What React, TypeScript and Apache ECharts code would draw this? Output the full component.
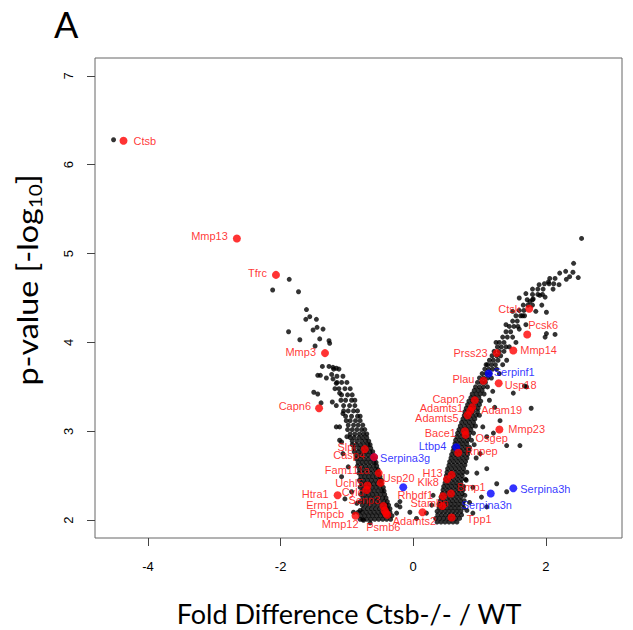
import { useEffect, useRef } from "react";
import * as echarts from "echarts";

// ---- axis ticks ----
const xTicks = [-4, -2, 0, 2];
const yTicks = [2, 3, 4, 5, 6, 7];

// ---- highlighted genes (red) ----
const redGenes = ["Ctsb", "Mmp13", "Tfrc", "Mmp3", "Capn6", "Slpi", "Casp4", "Fam111a", "Usp20", "Uchl5", "Cyld", "Htra1", "Senp3", "Ermp1", "Pmpcb", "Mmp12", "Psmb6", "Adamts2", "Stambp", "Tpp1", "Rhbdf1", "Bmp1", "Klk8", "H13", "Rnpep", "Osgep", "Bace1", "Mmp23", "Adam19", "Adamts5", "Adamts1", "Capn2", "Plau", "Usp18", "Prss23", "Mmp14", "Pcsk6", "Ctsk"];
const redFold = [-4.37, -2.66, -2.07, -1.33, -1.42, -0.73, -0.59, -0.52, -0.49, -0.69, -0.70, -1.14, -0.45, -0.43, -0.41, -0.87, -0.39, 0.14, 0.44, 0.58, 0.45, 0.57, 0.51, 0.58, 0.68, 0.79, 0.78, 1.30, 0.89, 0.82, 0.86, 0.93, 1.06, 1.29, 1.26, 1.51, 1.72, 1.75];
const redP = [6.27, 5.17, 4.76, 3.88, 3.26, 2.80, 2.71, 2.53, 2.42, 2.39, 2.34, 2.28, 2.16, 2.11, 2.08, 2.05, 2.06, 2.09, 2.16, 2.03, 2.27, 2.30, 2.46, 2.51, 2.76, 2.96, 3.00, 3.02, 3.27, 3.18, 3.23, 3.35, 3.57, 3.54, 3.88, 3.91, 4.09, 4.38];

// ---- highlighted genes (blue) ----
const blueGenes = ["Serpina3g", "", "Ltbp4", "Serpinf1", "Serpina3n", "Serpina3h"];
const blueFold = [-0.59, -0.15, 0.65, 1.14, 1.17, 1.51];
const blueP = [2.71, 2.37, 2.82, 3.65, 2.30, 2.36];

// ---- all other proteins (black), rows of [p-value, fold differences] ----
const leftRows: [number, number[]][] = [
  [2.01, [-0.80, -0.76, -0.70, -0.64, -0.58, -0.52, -0.46, -0.40, -0.34]],
  [2.05, [-0.79, -0.73, -0.67, -0.61, -0.55, -0.49, -0.43, -0.37, -0.32]],
  [2.09, [-0.83, -0.77, -0.71, -0.65, -0.59, -0.53, -0.47, -0.41, -0.35]],
  [2.13, [-0.75, -0.69, -0.63, -0.57, -0.51, -0.45, -0.39, -0.35]],
  [2.17, [-0.77, -0.71, -0.65, -0.59, -0.53, -0.47, -0.41, -0.37]],
  [2.21, [-0.80, -0.74, -0.68, -0.62, -0.56, -0.50, -0.44, -0.39]],
  [2.25, [-0.76, -0.70, -0.64, -0.58, -0.52, -0.46, -0.41]],
  [2.29, [-0.79, -0.73, -0.67, -0.61, -0.55, -0.49, -0.43]],
  [2.33, [-0.77, -0.71, -0.65, -0.59, -0.53, -0.47, -0.44]],
  [2.37, [-0.80, -0.74, -0.68, -0.62, -0.56, -0.50, -0.45]],
  [2.41, [-0.78, -0.72, -0.66, -0.60, -0.54, -0.48]],
  [2.45, [-0.81, -0.75, -0.69, -0.63, -0.57, -0.51, -0.48]],
  [2.49, [-0.79, -0.73, -0.67, -0.61, -0.55, -0.50]],
  [2.53, [-0.82, -0.76, -0.70, -0.64, -0.58, -0.52]],
  [2.57, [-0.81, -0.75, -0.69, -0.63, -0.57, -0.53]],
  [2.61, [-0.84, -0.78, -0.72, -0.66, -0.60, -0.55]],
  [2.65, [-0.83, -0.77, -0.71, -0.65, -0.59, -0.56]],
  [2.69, [-0.86, -0.80, -0.74, -0.68, -0.62, -0.58]],
  [2.73, [-0.86, -0.80, -0.74, -0.68, -0.62]],
  [2.77, [-0.89, -0.83, -0.77, -0.71, -0.65, -0.61]],
  [2.81, [-0.89, -0.82, -0.76, -0.70, -0.64]],
  [2.85, [-0.92, -0.86, -0.80, -0.74, -0.68, -0.65]],
  [2.89, [-0.92, -0.85, -0.78, -0.72, -0.67]],
  [2.93, [-0.95, -0.89, -0.82, -0.76, -0.70]],
  [2.97, [-0.95, -0.88, -0.81, -0.75, -0.70]],
  [3.02, [-0.99, -0.92, -0.85, -0.78, -0.73]],
  [3.07, [-0.98, -0.90, -0.83, -0.76]],
  [3.12, [-1.01, -0.95, -0.87, -0.80]],
  [3.17, [-1.02, -0.93, -0.84, -0.80]],
  [3.23, [-1.05, -0.98, -0.90, -0.84]],
  [3.29, [-1.05, -0.96, -0.88]],
  [3.35, [-1.09, -1.02, -0.93, -0.88]],
  [3.41, [-1.08, -0.99, -0.92]],
  [3.48, [-1.12, -1.03, -0.95]],
  [3.55, [-1.15, -1.08, -1.00]],
  [3.62, [-1.15, -1.06]],
  [3.70, [-1.20, -1.12]],
];

const rightRows: [number, number[]][] = [
  [1.98, [0.36, 0.42, 0.48, 0.54, 0.60, 0.66]],
  [2.02, [0.34, 0.40, 0.46, 0.52, 0.58, 0.64, 0.70]],
  [2.06, [0.37, 0.43, 0.49, 0.55, 0.61, 0.67, 0.73]],
  [2.10, [0.36, 0.42, 0.48, 0.54, 0.60, 0.66, 0.72]],
  [2.14, [0.39, 0.45, 0.51, 0.57, 0.63, 0.69, 0.76]],
  [2.18, [0.39, 0.45, 0.51, 0.57, 0.63, 0.69, 0.75]],
  [2.22, [0.41, 0.47, 0.53, 0.59, 0.65, 0.71, 0.77]],
  [2.26, [0.42, 0.48, 0.54, 0.60, 0.66, 0.72]],
  [2.30, [0.44, 0.50, 0.56, 0.62, 0.68, 0.74]],
  [2.34, [0.45, 0.51, 0.57, 0.63, 0.69, 0.75]],
  [2.38, [0.46, 0.52, 0.58, 0.64, 0.70, 0.76]],
  [2.42, [0.48, 0.54, 0.60, 0.66, 0.72]],
  [2.46, [0.49, 0.55, 0.61, 0.67, 0.73, 0.79]],
  [2.50, [0.50, 0.56, 0.62, 0.68, 0.74]],
  [2.54, [0.51, 0.57, 0.63, 0.69, 0.75, 0.81]],
  [2.58, [0.52, 0.58, 0.64, 0.70, 0.76]],
  [2.62, [0.54, 0.60, 0.66, 0.72, 0.78]],
  [2.66, [0.55, 0.61, 0.67, 0.73, 0.79]],
  [2.70, [0.57, 0.63, 0.69, 0.75, 0.81]],
  [2.74, [0.58, 0.64, 0.70, 0.76, 0.82]],
  [2.78, [0.60, 0.66, 0.72, 0.78, 0.84]],
  [2.82, [0.61, 0.67, 0.73, 0.79, 0.85]],
  [2.86, [0.63, 0.69, 0.75, 0.81]],
  [2.90, [0.64, 0.70, 0.76, 0.82, 0.88]],
  [2.94, [0.66, 0.72, 0.78, 0.84]],
  [2.98, [0.67, 0.73, 0.79, 0.85, 0.91]],
  [3.02, [0.69, 0.75, 0.81, 0.87]],
  [3.06, [0.71, 0.77, 0.83, 0.89, 0.94]],
  [3.10, [0.73, 0.79, 0.85, 0.91]],
  [3.14, [0.75, 0.81, 0.87, 0.93]],
  [3.18, [0.77, 0.83, 0.89, 0.95]],
  [3.22, [0.78, 0.84, 0.90, 0.97]],
  [3.26, [0.80, 0.86, 0.92, 0.98]],
  [3.30, [0.82, 0.88, 0.94, 1.00]],
  [3.34, [0.84, 0.90, 0.96, 1.02]],
  [3.38, [0.87, 0.93, 0.99]],
  [3.42, [0.89, 0.95, 1.01, 1.07]],
  [3.46, [0.92, 0.98, 1.04]],
  [3.50, [0.94, 1.00, 1.06, 1.12]],
  [3.55, [0.97, 1.03, 1.09]],
  [3.60, [1.00, 1.06, 1.12, 1.18]],
  [3.65, [1.04, 1.10, 1.16]],
  [3.70, [1.08, 1.14, 1.20, 1.26]],
  [3.75, [1.12, 1.18, 1.24]],
  [3.80, [1.15, 1.21, 1.28]],
  [3.85, [1.19, 1.26, 1.32]],
  [3.90, [1.22, 1.30, 1.37]],
  [3.95, [1.27, 1.33, 1.40]],
  [4.00, [1.30, 1.37]],
  [4.06, [1.35, 1.42, 1.50]],
  [4.12, [1.40, 1.47]],
  [4.18, [1.45, 1.52, 1.58]],
  [4.24, [1.50, 1.57]],
  [4.30, [1.55, 1.62, 1.68]],
  [4.36, [1.60, 1.67]],
  [4.42, [1.66, 1.73, 1.80]],
  [4.48, [1.72, 1.80]],
  [4.54, [1.80, 1.88, 1.95]],
  [4.60, [1.88, 1.96]],
  [4.66, [1.98, 2.05, 2.12]],
  [4.72, [2.06, 2.14]],
];

const leftScatter: [number, number][] = [
  [-4.52, 6.28], [-1.87, 4.71], [-2.12, 4.59], [-1.73, 4.57],
  [-1.61, 4.37], [-1.56, 4.29], [-1.46, 4.26], [-1.62, 4.26], [-1.45, 4.17], [-1.36, 4.15], [-1.88, 4.12], [-1.71, 4.03], [-1.41, 4.04], [-1.27, 4.02], [-1.48, 3.96], [-1.26, 3.99], [-1.51, 4.14],
  [-1.37, 3.73], [-1.27, 3.73], [-1.16, 3.71], [-1.44, 3.63], [-1.40, 3.63], [-1.31, 3.60], [-1.23, 3.64], [-1.16, 3.54], [-1.18, 3.48], [-1.50, 3.44], [-1.44, 3.42], [-1.22, 3.33], [-1.16, 3.29], [-1.39, 3.32], [-1.21, 3.72], [-1.21, 3.59], [-1.11, 3.43],
  [-1.06, 3.20], [-1.11, 3.05], [-1.00, 2.94], [-1.08, 2.88], [-1.16, 3.05], [-1.11, 2.90], [-1.06, 2.75], [-0.98, 2.60], [-1.08, 2.49], [-0.93, 2.32], [-1.03, 2.24], [-0.85, 2.19], [-0.80, 2.11], [-0.90, 2.09], [-0.75, 2.00], [-0.65, 1.97],
  [-0.25, 2.17], [-0.20, 2.21], [-0.20, 2.15], [-0.25, 2.08], [-0.05, 2.09],
];

const rightScatter: [number, number][] = [
  [2.54, 5.17], [2.42, 4.89], [2.41, 4.79], [2.31, 4.71], [2.36, 4.74], [2.49, 4.73], [2.21, 4.78], [2.04, 4.68], [2.11, 4.60], [1.91, 4.53], [1.99, 4.51], [1.81, 4.49], [1.76, 4.46], [1.94, 4.42], [2.01, 4.34],
  [2.01, 4.10], [2.14, 4.09], [1.99, 4.06], [1.78, 3.26], [1.31, 3.12], [1.23, 3.27], [1.41, 2.84], [1.61, 2.84], [1.11, 2.94], [1.21, 2.98], [1.01, 2.75], [1.11, 2.58], [0.96, 2.53], [1.26, 2.41], [1.41, 2.32], [1.03, 2.26], [0.90, 2.37], [0.81, 2.11], [0.90, 2.08], [1.11, 2.15], [1.51, 3.43], [1.71, 3.50], [1.68, 3.51], [1.41, 3.80],
  [0.28, 2.17], [0.20, 2.08], [0.30, 2.28], [0.05, 2.02],
  [0.85, 2.20], [0.80, 2.45], [0.95, 2.70], [1.05, 3.05], [1.15, 3.35], [1.30, 3.65], [1.45, 3.95], [1.60, 4.15], [1.65, 4.30], [1.85, 4.35], [0.78, 2.28], [0.92, 2.85], [1.00, 3.18], [1.20, 3.45], [1.35, 3.75], [1.55, 4.00], [1.70, 4.20], [1.80, 4.60], [1.90, 4.65], [2.20, 4.65], [2.30, 4.80], [1.70, 4.55], [1.60, 4.50], [1.50, 4.35], [1.40, 4.20], [1.25, 4.00], [1.10, 3.75],
];

// ---- label placement (text align, dx, dy in px from the dot) ----
const labelPlace: Record<string, [string, number, number]> = {
  Ctsb: ["left", 10, 0], Mmp13: ["right", -9, -2], Tfrc: ["right", -9, -2], Mmp3: ["right", -9, -1], Capn6: ["right", -8, -2],
  Slpi: ["right", -9, -2], Casp4: ["right", -9, -2], Serpina3g: ["left", 6, 1], Fam111a: ["right", -9, -3], Usp20: ["left", 2, -5],
  Uchl5: ["right", -4, -3], Cyld: ["right", -3, 2], Htra1: ["right", -9, -1], Senp3: ["right", -3, -6], Ermp1: ["right", -46, -5],
  Pmpcb: ["right", -42, 1], Mmp12: ["right", 3, 8], Psmb6: ["center", -4, 12], Adamts2: ["center", -8, 9], Stambp: ["right", 6, -3],
  Tpp1: ["left", 15, 1], Rhbdf1: ["right", -10, -1], Bmp1: ["left", 6, -7], Klk8: ["right", -8, 3], H13: ["right", -9, -2],
  Rnpep: ["left", 7, -2], Ltbp4: ["right", -10, -1], Osgep: ["left", 10, 3], Bace1: ["right", -9, 2], Mmp23: ["left", 9, -1],
  Adam19: ["left", 9, 3], Adamts5: ["right", -9, 3], Adamts1: ["right", -7, -3], Capn2: ["right", -10, -1], Plau: ["right", -9, -2],
  Usp18: ["left", 6, 2], Serpinf1: ["left", 5, -2], Prss23: ["right", -9, 0], Mmp14: ["left", 7, 0], Pcsk6: ["left", 1, -9],
  Ctsk: ["right", -9, 0], Serpina3n: ["left", -29, 11], Serpina3h: ["left", 7, 1],
};

const LABEL_FONT = "'Liberation Sans', Arial, sans-serif";
const TITLE_FONT = "Lato, 'Open Sans', sans-serif";
const HL_SIZE = 8;

function labelled(names: string[], xs: number[], ys: number[], color: string) {
  return names.map((name, i) => {
    const p = labelPlace[name];
    const item: any = { value: [xs[i], ys[i]], name };
    if (p) {
      item.label = {
        show: true,
        formatter: name,
        position: [HL_SIZE / 2 + p[1], HL_SIZE / 2 + p[2]],
        align: p[0],
        verticalAlign: "middle",
        color,
        fontSize: 11,
        fontFamily: LABEL_FONT,
      };
    }
    return item;
  });
}

function rowsToPoints(rows: [number, number[]][]) {
  const out: [number, number][] = [];
  rows.forEach(([y, xs]) => xs.forEach((x) => out.push([x, y])));
  return out;
}

export default function App() {
  const ref = useRef<HTMLDivElement>(null);
  useEffect(() => {
    if (!ref.current) return;
    const chart = echarts.init(ref.current, undefined, { renderer: "svg" });
    const black = [...rowsToPoints(leftRows), ...rowsToPoints(rightRows), ...leftScatter, ...rightScatter];
    chart.setOption({
      animation: false,
      backgroundColor: "#ffffff",
      grid: { left: 95, top: 58, width: 527, height: 480, show: true, borderColor: "#666", borderWidth: 1, backgroundColor: "transparent" },
      xAxis: {
        type: "value", min: -4.8, max: 3.15,
        splitLine: { show: false }, axisLine: { show: false, onZero: false },
        axisTick: { show: true, length: 8, lineStyle: { color: "#444" }, customValues: xTicks },
        axisLabel: { customValues: xTicks, fontSize: 13, color: "#000", margin: 22, fontFamily: LABEL_FONT },
      },
      yAxis: {
        type: "value", min: 1.8, max: 7.2,
        splitLine: { show: false }, axisLine: { show: false, onZero: false },
        axisTick: { show: true, length: 8, lineStyle: { color: "#444" }, customValues: yTicks },
        axisLabel: { customValues: yTicks, fontSize: 13, color: "#000", margin: 20, rotate: 90, fontFamily: LABEL_FONT },
      },
      series: [
        { type: "scatter", data: black, symbolSize: 5, itemStyle: { color: "#000" }, silent: true },
        { type: "scatter", data: labelled(blueGenes, blueFold, blueP, "#0000ff"), symbolSize: HL_SIZE, itemStyle: { color: "#0000ff" }, silent: true },
        { type: "scatter", data: labelled(redGenes, redFold, redP, "#ff0000"), symbolSize: HL_SIZE, itemStyle: { color: "#ff0000" }, silent: true },
      ],
      graphic: [
        { type: "text", left: 54, top: 6, style: { text: "A", fontSize: 36, fontFamily: TITLE_FONT, fill: "#000" } },
        { type: "text", x: 349, y: 613, style: { text: "Fold Difference Ctsb-/- / WT", fontSize: 27, fontFamily: TITLE_FONT, fill: "#000", align: "center", verticalAlign: "middle" } },
        {
          type: "text", x: 27, y: 280, rotation: Math.PI / 2, scaleX: 1.15,
          style: {
            text: "{a|p-value [-log}{s|10}{a|]}",
            align: "center", verticalAlign: "middle", fill: "#000",
            rich: {
              a: { fontSize: 28, fontFamily: TITLE_FONT, lineHeight: 34, verticalAlign: "middle" },
              s: { fontSize: 18, fontFamily: TITLE_FONT, lineHeight: 34, verticalAlign: "bottom", padding: [10, 0, 0, 0] },
            },
          },
        },
      ],
    });
    return () => chart.dispose();
  }, []);
  return <div ref={ref} style={{ position: "fixed", left: 0, top: 0, width: 633, height: 630, background: "#fff" }} />;
}
